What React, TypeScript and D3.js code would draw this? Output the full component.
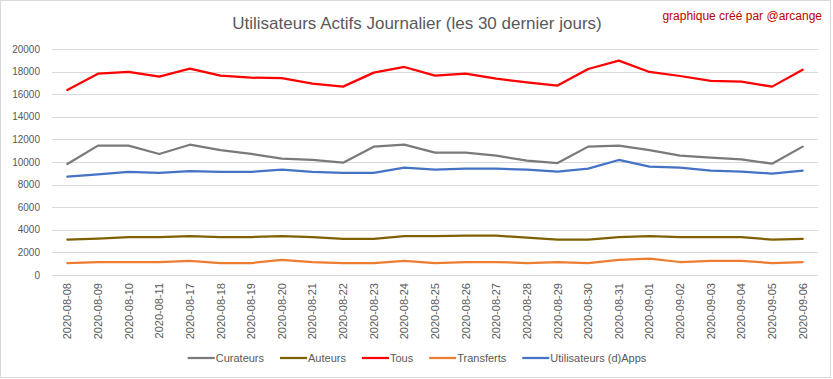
import React from "react";
import * as d3 from "d3";

const dates = [
  "2020-08-08", "2020-08-09", "2020-08-10", "2020-08-11", "2020-08-17",
  "2020-08-18", "2020-08-19", "2020-08-20", "2020-08-21", "2020-08-22",
  "2020-08-23", "2020-08-24", "2020-08-25", "2020-08-26", "2020-08-27",
  "2020-08-28", "2020-08-29", "2020-08-30", "2020-08-31", "2020-09-01",
  "2020-09-02", "2020-09-03", "2020-09-04", "2020-09-05", "2020-09-06",
];

const curateurs = [
  9820, 11450, 11450, 10710, 11530, 11060, 10710, 10300, 10180, 9940,
  11360, 11530, 10830, 10830, 10560, 10120, 9910, 11360, 11450, 11060,
  10560, 10380, 10240, 9850, 11360,
];
const auteurs = [
  3130, 3220, 3360, 3360, 3450, 3360, 3360, 3450, 3360, 3190,
  3190, 3450, 3450, 3480, 3480, 3300, 3130, 3130, 3360, 3450,
  3360, 3360, 3360, 3130, 3190,
];
const tous = [
  16370, 17810, 17970, 17550, 18260, 17640, 17460, 17430, 16930, 16670,
  17910, 18410, 17640, 17820, 17380, 17050, 16760, 18230, 18970, 17970,
  17610, 17170, 17110, 16670, 18170,
];
const transferts = [
  1060, 1150, 1150, 1150, 1240, 1060, 1060, 1330, 1150, 1060,
  1060, 1240, 1060, 1150, 1150, 1060, 1150, 1060, 1330, 1450,
  1150, 1240, 1240, 1060, 1150,
];
const apps = [
  8700, 8910, 9120, 9030, 9200, 9120, 9120, 9320, 9120, 9030,
  9030, 9500, 9320, 9410, 9410, 9320, 9150, 9410, 10180, 9590,
  9500, 9230, 9150, 8970, 9230,
];

const yTicks = [0, 2000, 4000, 6000, 8000, 10000, 12000, 14000, 16000, 18000, 20000];

const seriesNames = ["Curateurs", "Auteurs", "Tous", "Transferts", "Utilisateurs (d)Apps"];
const seriesValues = [curateurs, auteurs, tous, transferts, apps];
const seriesColors = ["#7a7a7a", "#7f6000", "#ff0000", "#ed7d31", "#4472c4"];

const title = "Utilisateurs Actifs Journalier (les 30 dernier jours)";
const credit = "graphique créé par @arcange";

const W = 833;
const H = 379;
const FONT = "'Liberation Sans', Arial, sans-serif";

function textWidth(s: string, size: number): number {
  if (typeof document === "undefined") return s.length * size * 0.5;
  const c = document.createElement("canvas");
  const ctx = c.getContext("2d");
  if (!ctx) return s.length * size * 0.5;
  ctx.font = `${size}px ${FONT}`;
  return ctx.measureText(s).width;
}

export default function App() {
  const x = d3.scaleBand<string>().domain(dates).range([52, 818]);
  const y = d3.scaleLinear().domain([0, 20000]).range([275, 49]);
  const cx = (d: string) => (x(d) as number) + x.bandwidth() / 2;

  const line = d3
    .line<number>()
    .x((_, i) => cx(dates[i]))
    .y((v) => y(v));

  // legend layout
  const legendFont = 11;
  const swatch = 27;
  const gapAfterSwatch = 1;
  const gapBetween = 16;
  const widths = seriesNames.map((n) => textWidth(n, legendFont));
  const total =
    widths.reduce((a, b) => a + b, 0) +
    seriesNames.length * (swatch + gapAfterSwatch) +
    (seriesNames.length - 1) * gapBetween;
  let lx = 417 - total / 2;
  const legendItems = seriesNames.map((n, i) => {
    const item = { name: n, x: lx, color: seriesColors[i] };
    lx += swatch + gapAfterSwatch + widths[i] + gapBetween;
    return item;
  });
  const ly = 358;

  return (
    <div style={{ position: "absolute", left: 0, top: 0 }}>
      <svg width={W} height={H} style={{ display: "block", fontFamily: FONT }}>
        <rect x={0} y={0} width={W} height={H} fill="#ffffff" />
        <rect x={0.5} y={0.5} width={830} height={377} fill="none" stroke="#d9d9d9" strokeWidth={1} />

        <text x={417} y={29} textAnchor="middle" fontSize={17} fill="#595959">
          {title}
        </text>
        <text x={822} y={20} textAnchor="end" fontSize={12} fill="#c00000">
          {credit}
        </text>

        {yTicks.map((t) => (
          <g key={t}>
            <line x1={52} x2={818} y1={Math.round(y(t)) + 0.5} y2={Math.round(y(t)) + 0.5} stroke="#d9d9d9" strokeWidth={1} />
            <text x={40} y={y(t) + 3.5} textAnchor="end" fontSize={10} fill="#595959">
              {t}
            </text>
          </g>
        ))}

        {dates.map((d) => (
          <text
            key={d}
            transform={`translate(${cx(d) + 4},${283}) rotate(-90)`}
            textAnchor="end"
            fontSize={11}
            fill="#595959"
          >
            {d}
          </text>
        ))}

        {seriesValues.map((vals, i) => (
          <path
            key={seriesNames[i]}
            d={line(vals) || ""}
            fill="none"
            stroke={seriesColors[i]}
            strokeWidth={2.25}
            strokeLinejoin="round"
            strokeLinecap="round"
          />
        ))}

        {legendItems.map((it) => (
          <g key={it.name}>
            <line x1={it.x} x2={it.x + swatch} y1={ly} y2={ly} stroke={it.color} strokeWidth={2.25} />
            <text x={it.x + swatch + gapAfterSwatch} y={ly + 4} fontSize={legendFont} fill="#595959">
              {it.name}
            </text>
          </g>
        ))}
      </svg>
    </div>
  );
}
